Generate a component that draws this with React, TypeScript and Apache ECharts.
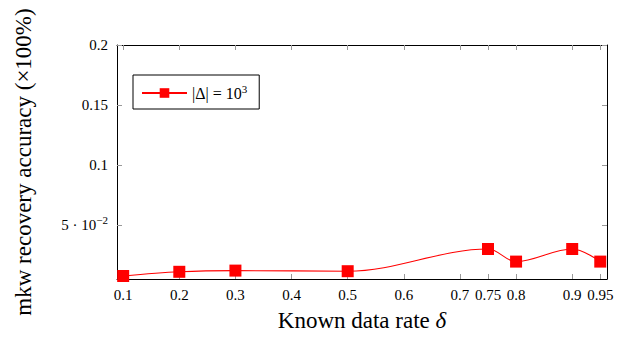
import React, { useEffect, useRef } from "react";
import * as echarts from "echarts";

const xValues = [0.1, 0.2, 0.3, 0.5, 0.75, 0.8, 0.9, 0.95];
const accuracy = [0.0075, 0.011, 0.012, 0.0115, 0.03, 0.0195, 0.03, 0.0195];
const xTicks = [0.1, 0.2, 0.3, 0.4, 0.5, 0.6, 0.7, 0.75, 0.8, 0.9, 0.95];
const yTicks = [0.05, 0.1, 0.15, 0.2];
const seriesName = "|Δ| = 10^3";

const FONT = "'Liberation Serif', 'DejaVu Serif', serif";

export default function App() {
  const ref = useRef<HTMLDivElement>(null);
  useEffect(() => {
    if (!ref.current) return;
    const chart = echarts.init(ref.current, null, { renderer: "svg" });
    const tickStyle = { show: true, inside: true, length: 5, lineStyle: { color: "#999", width: 1 } };
    const xTickCommon = {
      type: "value" as const,
      min: 0.089,
      max: 0.962,
      splitLine: { show: false },
      axisLine: { show: true, onZero: false, lineStyle: { color: "#000", width: 1 } },
    };
    const yCommon = {
      type: "value" as const,
      min: 0.005,
      max: 0.2,
      splitLine: { show: false },
      axisLine: { show: true, onZero: false, lineStyle: { color: "#000", width: 1 } },
    };
    chart.setOption({
      animation: false,
      textStyle: { fontFamily: FONT },
      grid: { left: 117, right: 26, top: 45, bottom: 60, containLabel: false },
      legend: {
        left: 133,
        top: 75,
        orient: "vertical",
        borderColor: "#000",
        borderWidth: 1,
        borderRadius: 0,
        padding: [8, 12, 8, 8],
        itemWidth: 45,
        itemHeight: 12,
        itemGap: 4,
        data: [seriesName],
        formatter: () => "|Δ| = 10{sup|3}",
        textStyle: {
          fontFamily: FONT,
          fontSize: 16,
          color: "#000",
          rich: {
            sup: { fontSize: 11, fontFamily: FONT, padding: [0, 0, 9, 0], color: "#000" },
          },
        },
      },
      xAxis: [
        {
          ...xTickCommon,
          position: "bottom",
          name: "Known data rate {i|δ}",
          nameLocation: "middle",
          nameGap: 30,
          nameTextStyle: {
            fontFamily: FONT,
            fontSize: 23,
            color: "#000",
            rich: { i: { fontStyle: "italic", fontFamily: FONT, fontSize: 23, color: "#000" } },
          },
          axisTick: { ...tickStyle, customValues: xTicks },
          axisLabel: {
            customValues: xTicks,
            fontFamily: FONT,
            fontSize: 15,
            color: "#000",
            margin: 8,
            formatter: (v: number) => String(v),
          },
        },
        {
          ...xTickCommon,
          position: "top",
          axisTick: { ...tickStyle, customValues: xTicks },
          axisLabel: { show: false },
        },
      ],
      yAxis: [
        {
          ...yCommon,
          position: "left",
          name: "mkw recovery accuracy (×100%)",
          nameLocation: "middle",
          nameGap: 82,
          nameTextStyle: { fontFamily: FONT, fontSize: 23, color: "#000" },
          axisTick: { ...tickStyle, customValues: yTicks },
          axisLabel: {
            customValues: yTicks,
            fontFamily: FONT,
            fontSize: 15,
            color: "#000",
            margin: 9,
            formatter: (v: number) =>
              Math.abs(v - 0.05) < 1e-9 ? "5 · 10{sup|−2}" : String(v),
            rich: {
              sup: { fontSize: 11, fontFamily: FONT, padding: [0, 0, 10, 0], color: "#000" },
            },
          },
        },
        {
          ...yCommon,
          position: "right",
          axisTick: { ...tickStyle, customValues: yTicks },
          axisLabel: { show: false },
        },
      ],
      series: [
        {
          name: seriesName,
          type: "line",
          xAxisIndex: 0,
          yAxisIndex: 0,
          data: xValues.map((x, i) => [x, accuracy[i]]),
          smooth: 0.35,
          symbol: "rect",
          symbolSize: 12,
          itemStyle: { color: "#ff0000" },
          lineStyle: { color: "#ff0000", width: 1.1 },
        },
      ],
    });
    return () => chart.dispose();
  }, []);
  return <div ref={ref} style={{ width: 633, height: 339, margin: -8 }} />;
}
